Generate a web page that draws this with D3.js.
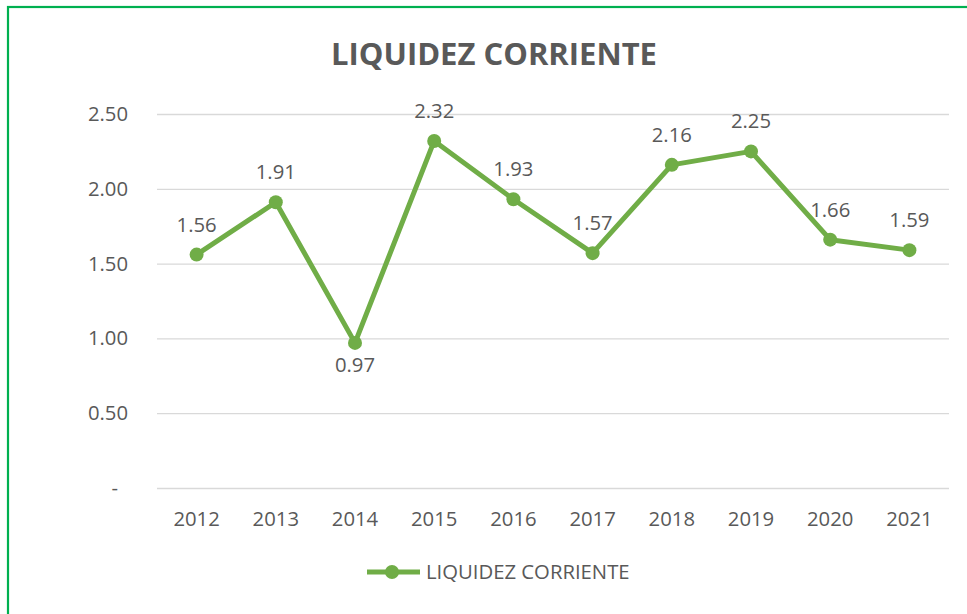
<!DOCTYPE html>
<html><head><meta charset="utf-8">
<script src="https://cdn.jsdelivr.net/npm/d3@7"></script>
<style>
html,body{margin:0;padding:0;background:#fff;overflow:hidden}
svg{display:block}
text{font-family:"Open Sans","Noto Sans",sans-serif;fill:#595959}
</style></head><body>
<svg id="c" width="967" height="614"></svg>
<script>
const years = ["2012","2013","2014","2015","2016","2017","2018","2019","2020","2021"];
const values = [1.56,1.91,0.97,2.32,1.93,1.57,2.16,2.25,1.66,1.59];
const yTicks = [0,0.5,1,1.5,2,2.5];
const seriesName = "LIQUIDEZ CORRIENTE";
const title = "LIQUIDEZ CORRIENTE";

const svg = d3.select("#c");
const W=967,H=614;
svg.append("rect").attr("x",8).attr("y",7).attr("width",W+20).attr("height",H+20)
  .attr("fill","#fff").attr("stroke","#00B050").attr("stroke-width",2.2);

const x = d3.scaleBand().domain(years).range([157,949]);
const y = d3.scaleLinear().domain([0,2.5]).range([488,114]);
const green="#70AD47";
const fs="20.3px";

svg.append("text").attr("x",494).attr("y",65).attr("text-anchor","middle")
  .style("font-size","31px").style("font-weight","700")
  .attr("textLength",326).attr("lengthAdjust","spacingAndGlyphs").text(title);

const yAxis = d3.axisLeft(y).tickValues(yTicks).tickSize(-(949-157))
  .tickFormat(d=> d===0 ? "-" : d3.format(".2f")(d)).tickPadding(29);
const gy = svg.append("g").attr("transform","translate(157,0)").call(yAxis);
gy.select(".domain").remove();
gy.selectAll(".tick line").attr("stroke","#D9D9D9").attr("stroke-width",1.3);
gy.selectAll(".tick text").style("font-size",fs).attr("fill","#595959")
  .attr("dx",d=> d===0 ? -10 : 0);

const xAxis = d3.axisBottom(x).tickSize(0).tickPadding(24);
const gx = svg.append("g").attr("transform","translate(0,488)").call(xAxis);
gx.select(".domain").remove();
gx.selectAll(".tick text").style("font-size",fs).attr("fill","#595959");

const cx = d => x(d)+x.bandwidth()/2;
const line = d3.line().x((d,i)=>cx(years[i])).y(d=>y(d));
svg.append("path").datum(values).attr("d",line).attr("fill","none")
  .attr("stroke",green).attr("stroke-width",5).attr("stroke-linejoin","round");
svg.selectAll("circle.pt").data(values).enter().append("circle").attr("class","pt")
  .attr("cx",(d,i)=>cx(years[i])).attr("cy",d=>y(d)).attr("r",7).attr("fill",green);

svg.selectAll("text.lbl").data(values).enter().append("text").attr("class","lbl")
  .attr("x",(d,i)=>cx(years[i]))
  .attr("y",(d,i)=> i===2 ? y(d)+29 : y(d)-23)
  .attr("text-anchor","middle").style("font-size",fs)
  .text(d=>d3.format(".2f")(d));

const lg = svg.append("g");
lg.append("line").attr("x1",367).attr("x2",420).attr("y1",572).attr("y2",572)
  .attr("stroke",green).attr("stroke-width",5);
lg.append("circle").attr("cx",392).attr("cy",572).attr("r",7).attr("fill",green);
lg.append("text").attr("x",426).attr("y",579).style("font-size",fs).text(seriesName);
</script>
</body></html>
